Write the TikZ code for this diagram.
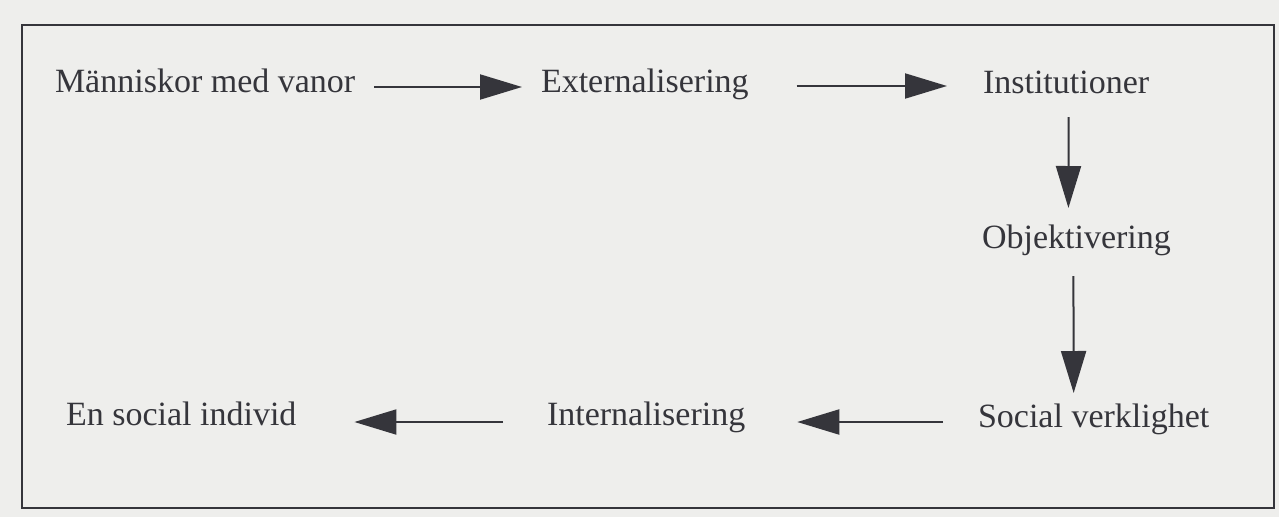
\documentclass[tikz,border=0pt]{standalone}
\usepackage{fontspec}
\setmainfont{Liberation Serif}
\usetikzlibrary{arrows.meta}
\definecolor{paper}{HTML}{EEEEEC}
\definecolor{ink}{HTML}{35353B}
\tikzset{
  lbl/.style={inner sep=0pt, outer sep=0pt, text=ink, font=\fontsize{34}{40}\selectfont},
  arr/.style={draw=ink, line width=2pt, -{Triangle[length=42pt,width=25pt]}},
}
\begin{document}
\begin{tikzpicture}[x=1pt,y=-1pt]
\fill[paper] (0,0) rectangle (1279,517);
\useasboundingbox (0,0) rectangle (1279,517);
\draw[ink, line width=2.5pt] (22,25) rectangle (1274,508);
\node[lbl, anchor=base west] (man) at (55,92) {Människor med vanor};
\node[lbl, anchor=base west] (ext) at (541,92) {Externalisering};
\node[lbl, anchor=base west] (inst) at (983,93) {Institutioner};
\node[lbl, anchor=base west] (obj) at (982,248) {Objektivering};
\node[lbl, anchor=base west] (soc) at (978,427) {Social verklighet};
\node[lbl, anchor=base west] (int) at (547,425) {Internalisering};
\node[lbl, anchor=base west] (ind) at (66,425) {En social individ};
\draw[arr] ([xshift=19pt,yshift=5pt]man.base east) -- ([xshift=-19pt,yshift=5pt]ext.base west);
\draw[arr] ([xshift=48pt,yshift=6pt]ext.base east) -- ([xshift=-36pt,yshift=7pt]inst.base west);
\draw[arr] ([xshift=2.5pt,yshift=-24pt]inst.base) -- ([xshift=-8pt,yshift=40pt]obj.base);
\draw[arr] ([xshift=-3pt,yshift=-28pt]obj.base) -- ([xshift=-20pt,yshift=34pt]soc.base);
\draw[arr] ([xshift=-35pt,yshift=5pt]soc.base west) -- ([xshift=52pt,yshift=3pt]int.base east);
\draw[arr] ([xshift=-44pt,yshift=3pt]int.base west) -- ([xshift=58pt,yshift=3pt]ind.base east);
\end{tikzpicture}
\end{document}
